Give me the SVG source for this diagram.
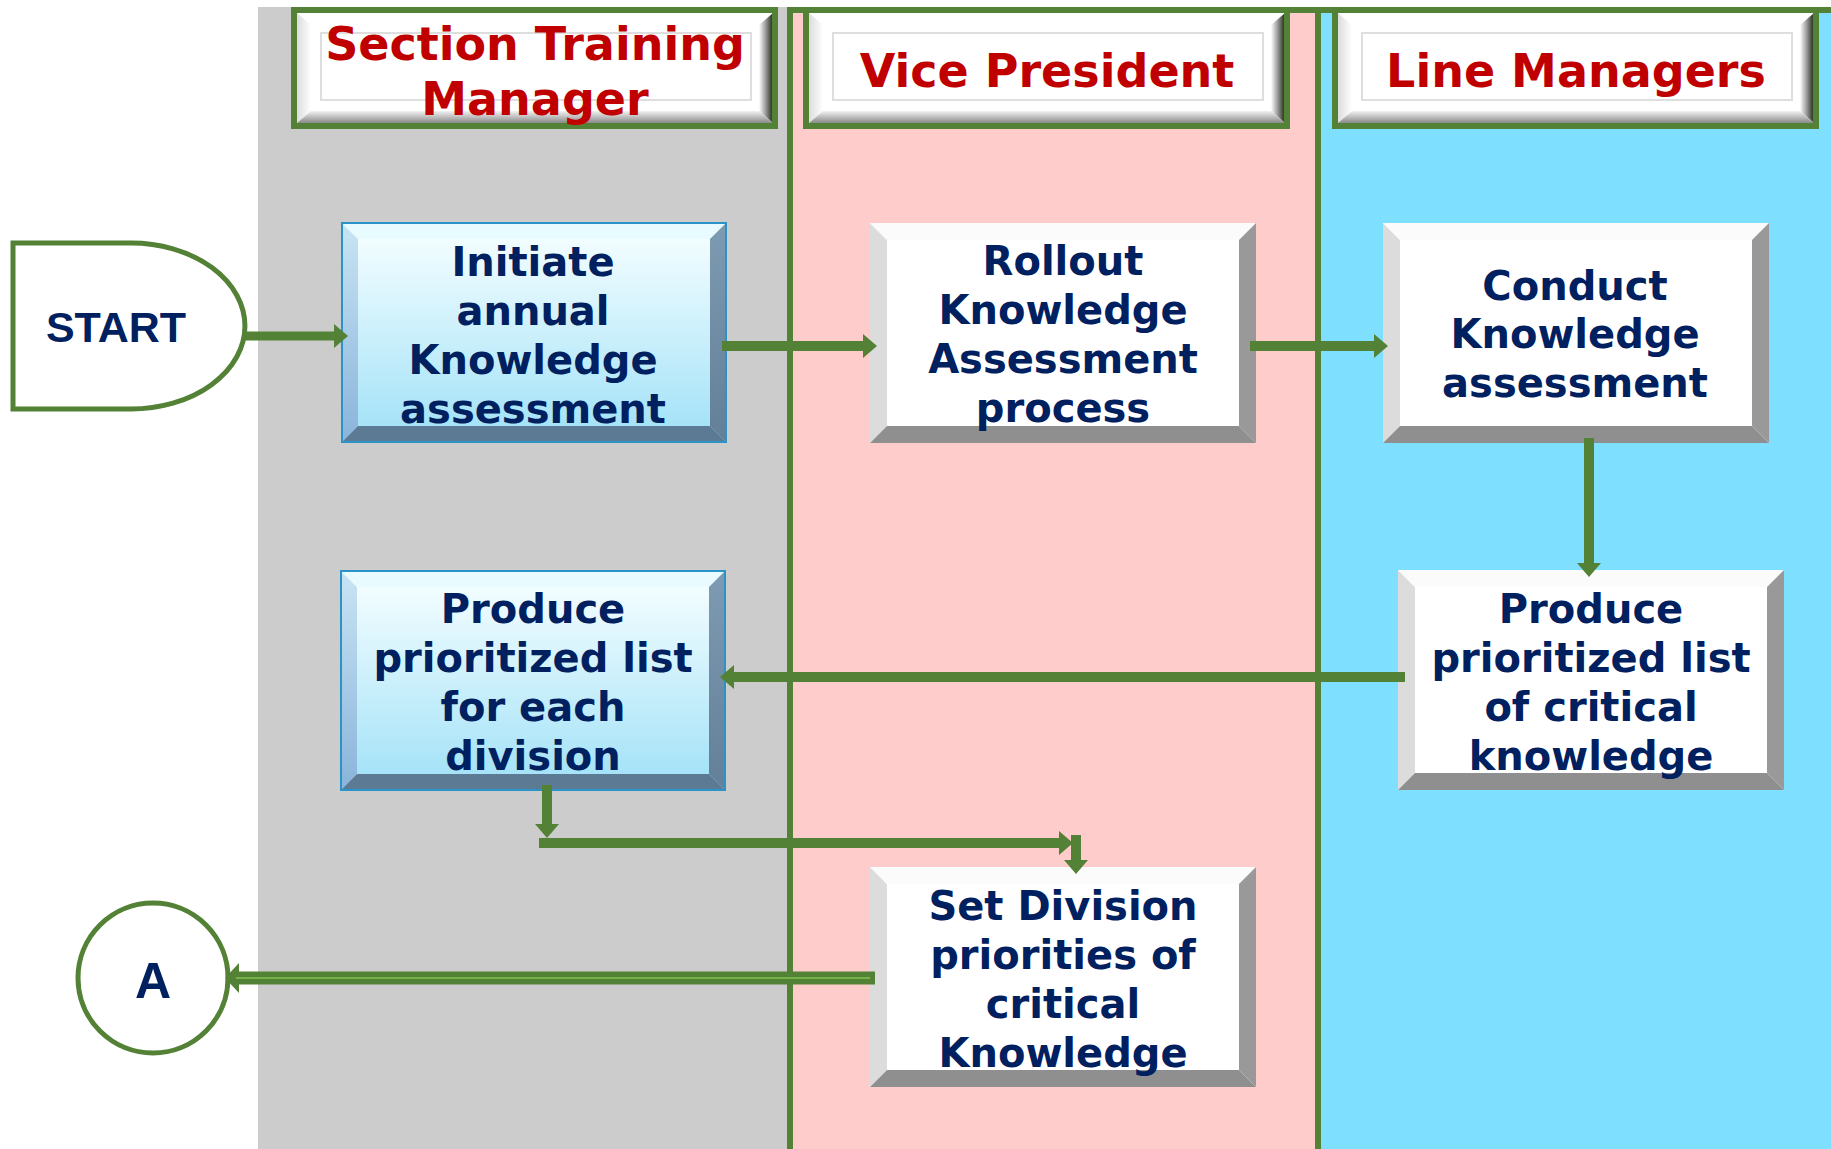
<svg xmlns="http://www.w3.org/2000/svg" xmlns:xlink="http://www.w3.org/1999/xlink" width="1831" height="1149" viewBox="0 0 1831 1149">
<style>
.nt{font-family:"DejaVu Sans",Verdana,sans-serif;font-weight:bold;font-size:40px;fill:#002060;text-anchor:middle}
.ht{font-family:"DejaVu Sans",Verdana,sans-serif;font-weight:bold;font-size:46px;fill:#c00000;text-anchor:middle}
.st{font-family:"Liberation Sans",Arial,sans-serif;font-weight:bold;fill:#002060;text-anchor:middle}
.frame{fill:none;stroke:#538135;stroke-width:6}
.lane{stroke:#538135;stroke-width:6}
.term{fill:#fff;stroke:#538135;stroke-width:5}
.cn{fill:none;stroke:#538135;stroke-width:10;marker-end:url(#ah)}
.cnA{fill:none;stroke:#538135;stroke-width:13;marker-end:url(#ahA)}
.cnS{fill:none;stroke:#74b34a;stroke-width:2}
</style>
<defs>
<marker id="ah" viewBox="0 0 14 24" markerWidth="14" markerHeight="24" refX="0" refY="12" orient="auto" markerUnits="userSpaceOnUse"><path d="M0,0 L14,12 L0,24 Z" fill="#538135"/></marker>
<marker id="ahA" viewBox="0 0 14 30" markerWidth="14" markerHeight="30" refX="0" refY="15" orient="auto" markerUnits="userSpaceOnUse"><path d="M0,0 L14,15 L0,30 Z" fill="#538135"/></marker>
<linearGradient id="hL" x1="0" y1="0" x2="1" y2="0"><stop offset="0" stop-color="#dcdcdc"/><stop offset="1" stop-color="#ffffff"/></linearGradient>
<linearGradient id="hR" x1="0" y1="0" x2="1" y2="0"><stop offset="0" stop-color="#ffffff"/><stop offset="0.45" stop-color="#a0a0a0"/><stop offset="1" stop-color="#1c2a12"/></linearGradient>
<linearGradient id="hB" x1="0" y1="0" x2="0" y2="1"><stop offset="0" stop-color="#f2f2f2"/><stop offset="1" stop-color="#8a8a8a"/></linearGradient>
<linearGradient id="bFace" x1="0" y1="0" x2="0" y2="1"><stop offset="0" stop-color="#f2fdff"/><stop offset="1" stop-color="#a6e3f8"/></linearGradient>
<linearGradient id="bLeft" x1="0" y1="0" x2="0" y2="1"><stop offset="0" stop-color="#c8e4f3"/><stop offset="1" stop-color="#8ab4da"/></linearGradient>
<linearGradient id="bRight" x1="0" y1="0" x2="0" y2="1"><stop offset="0" stop-color="#7d9bb2"/><stop offset="1" stop-color="#647f98"/></linearGradient>
<g id="hdrBevel">
<rect width="476" height="110" fill="#fff"/>
<polygon points="0,0 14,12 14,98 0,110" fill="url(#hL)"/>
<polygon points="476,0 476,110 462,98 462,12" fill="url(#hR)"/>
<polygon points="0,110 14,98 462,98 476,110" fill="url(#hB)"/>
<rect x="24" y="20" width="430" height="67" fill="none" stroke="#dedede" stroke-width="2"/>
</g>
<g id="bevW">
<rect width="386" height="220" fill="#fff"/>
<polygon points="0,0 17,17 17,203 0,220" fill="#dcdcdc"/>
<polygon points="0,0 386,0 369,17 17,17" fill="#fbfbfb"/>
<polygon points="386,0 386,220 369,203 369,17" fill="#999999"/>
<polygon points="0,220 386,220 369,203 17,203" fill="#8f8f8f"/>
</g>
<g id="bevB">
<rect width="384" height="219" fill="url(#bFace)" stroke="#2a93c8" stroke-width="2"/>
<polygon points="1,1 16,16 16,203 1,218" fill="url(#bLeft)"/>
<polygon points="1,1 383,1 368,16 16,16" fill="#e8fbff"/>
<polygon points="383,1 383,218 368,203 368,16" fill="url(#bRight)"/>
<polygon points="1,218 383,218 368,203 16,203" fill="#5c7a93"/>
<rect x="16" y="16" width="352" height="187" fill="url(#bFace)"/>
</g>
</defs>

<g id="lanes">
<rect x="258" y="7" width="532" height="1142" fill="#cccccc"/>
<rect x="1318" y="10" width="520" height="1145" class="lane" style="fill:#7fdfff"/>
<rect x="790" y="10" width="528" height="1145" class="lane" style="fill:#ffcccc"/>
</g>

<g id="hdr-stm">
<use href="#hdrBevel" x="297" y="13"/>
<rect x="294" y="10" width="481" height="116" class="frame"/>
<text class="ht" x="535" y="60">Section Training</text>
<text class="ht" x="535" y="115">Manager</text>
</g>
<g id="hdr-vp">
<use href="#hdrBevel" x="809" y="13"/>
<rect x="806" y="10" width="481" height="116" class="frame"/>
<text class="ht" x="1047" y="87">Vice President</text>
</g>
<g id="hdr-lm">
<use href="#hdrBevel" x="1338" y="13"/>
<rect x="1335" y="10" width="481" height="116" class="frame"/>
<text class="ht" x="1576" y="87">Line Managers</text>
</g>

<g id="start">
<path class="term" d="M13,243 H131 A114,83 0 0 1 131,409 H13 Z"/>
<text class="st" x="116" y="342" font-size="43">START</text>
</g>

<g id="initiate">
<use href="#bevB" x="342" y="223"/>
<text class="nt" x="533" y="276">Initiate</text>
<text class="nt" x="533" y="325">annual</text>
<text class="nt" x="533" y="374">Knowledge</text>
<text class="nt" x="533" y="423">assessment</text>
</g>

<g id="rollout">
<use href="#bevW" x="870" y="223"/>
<text class="nt" x="1063" y="275">Rollout</text>
<text class="nt" x="1063" y="324">Knowledge</text>
<text class="nt" x="1063" y="373">Assessment</text>
<text class="nt" x="1063" y="422">process</text>
</g>

<g id="conduct">
<use href="#bevW" x="1383" y="223"/>
<text class="nt" x="1575" y="300">Conduct</text>
<text class="nt" x="1575" y="348">Knowledge</text>
<text class="nt" x="1575" y="397">assessment</text>
</g>

<g id="produce-lm">
<use href="#bevW" x="1398" y="570"/>
<text class="nt" x="1591" y="623">Produce</text>
<text class="nt" x="1591" y="672">prioritized list</text>
<text class="nt" x="1591" y="721">of critical</text>
<text class="nt" x="1591" y="770">knowledge</text>
</g>

<g id="produce-stm">
<use href="#bevB" x="341" y="571"/>
<text class="nt" x="533" y="623">Produce</text>
<text class="nt" x="533" y="672">prioritized list</text>
<text class="nt" x="533" y="721">for each</text>
<text class="nt" x="533" y="770">division</text>
</g>

<g id="set-division">
<use href="#bevW" x="870" y="867"/>
<text class="nt" x="1063" y="920">Set Division</text>
<text class="nt" x="1063" y="969">priorities of</text>
<text class="nt" x="1063" y="1018">critical</text>
<text class="nt" x="1063" y="1067">Knowledge</text>
</g>

<g id="node-a">
<circle class="term" cx="153" cy="978" r="75"/>
<text class="st" x="153" y="998" font-size="50">A</text>
</g>

<g id="connectors">
<path class="cn" style="stroke-width:9" d="M245,336 H334"/>
<path class="cn" d="M722,346 H863"/>
<path class="cn" d="M1250,346 H1374"/>
<path class="cn" d="M1589,438 V563"/>
<path class="cn" d="M1405,677 H734"/>
<path class="cn" d="M547,785 V824"/>
<path class="cn" d="M539,843 H1059"/>
<path class="cn" d="M1076,835 V860"/>
<path class="cnA" d="M875,978 H239"/>
<path class="cnS" d="M870,978 H236"/>
</g>
</svg>
